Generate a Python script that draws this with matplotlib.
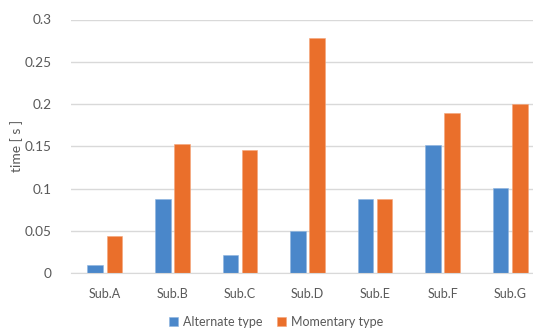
import matplotlib
matplotlib.use("Agg")
import matplotlib.pyplot as plt
import numpy as np

categories = ["Sub.A", "Sub.B", "Sub.C", "Sub.D", "Sub.E", "Sub.F", "Sub.G"]
alternate = [0.010, 0.088, 0.021, 0.050, 0.088, 0.152, 0.101]
momentary = [0.044, 0.153, 0.146, 0.278, 0.088, 0.189, 0.200]
yticks = [0, 0.05, 0.1, 0.15, 0.2, 0.25, 0.3]
ytick_labels = ["0", "0.05", "0.1", "0.15", "0.2", "0.25", "0.3"]

plt.rcParams['font.family'] = ['Lato', 'DejaVu Sans']
txt = '#595959'

fig = plt.figure(figsize=(5.33, 3.29), dpi=100)
ax = fig.add_axes([71/533, 1-273/329, (544-71)/533, (273-19.5)/329])

x = np.arange(len(categories))
w = 0.23
off = 0.142
b1 = ax.bar(x - off, alternate, w, color='#4A87CA', edgecolor='#8DB5E0', linewidth=0.4, label='Alternate type', zorder=3)
b2 = ax.bar(x + off, momentary, w, color='#EA6F2B', edgecolor='#F4A57A', linewidth=0.4, label='Momentary type', zorder=3)

ax.set_xlim(-0.5, len(categories) - 0.5)
ax.set_ylim(0, 0.3)
ax.set_yticks(yticks)
ax.set_yticklabels(ytick_labels)
ax.set_xticks(x)
ax.set_xticklabels(categories)
ax.tick_params(axis='both', length=0, colors=txt)
ax.tick_params(axis='x', pad=11, labelsize=9)
ax.tick_params(axis='y', pad=14, labelsize=9.8)
ax.grid(axis='y', color='#D9D9D9', linewidth=1, zorder=0)
for s in ['top', 'right', 'left']:
    ax.spines[s].set_visible(False)
ax.spines['bottom'].set_color('#D9D9D9')
ax.spines['bottom'].set_zorder(4)

fig.text(17/533, 1-146/329, "time [ s ]", rotation=90, ha='center', va='center', color=txt, fontsize=10)

fig.legend(handles=[b1, b2], loc='center', bbox_to_anchor=(276/533, 1-322/329), ncol=2,
           frameon=False, fontsize=9, handlelength=0.7, handleheight=0.7, handletextpad=0.4,
           columnspacing=1.2, labelcolor=txt)

fig.savefig("out.png", dpi=100)
